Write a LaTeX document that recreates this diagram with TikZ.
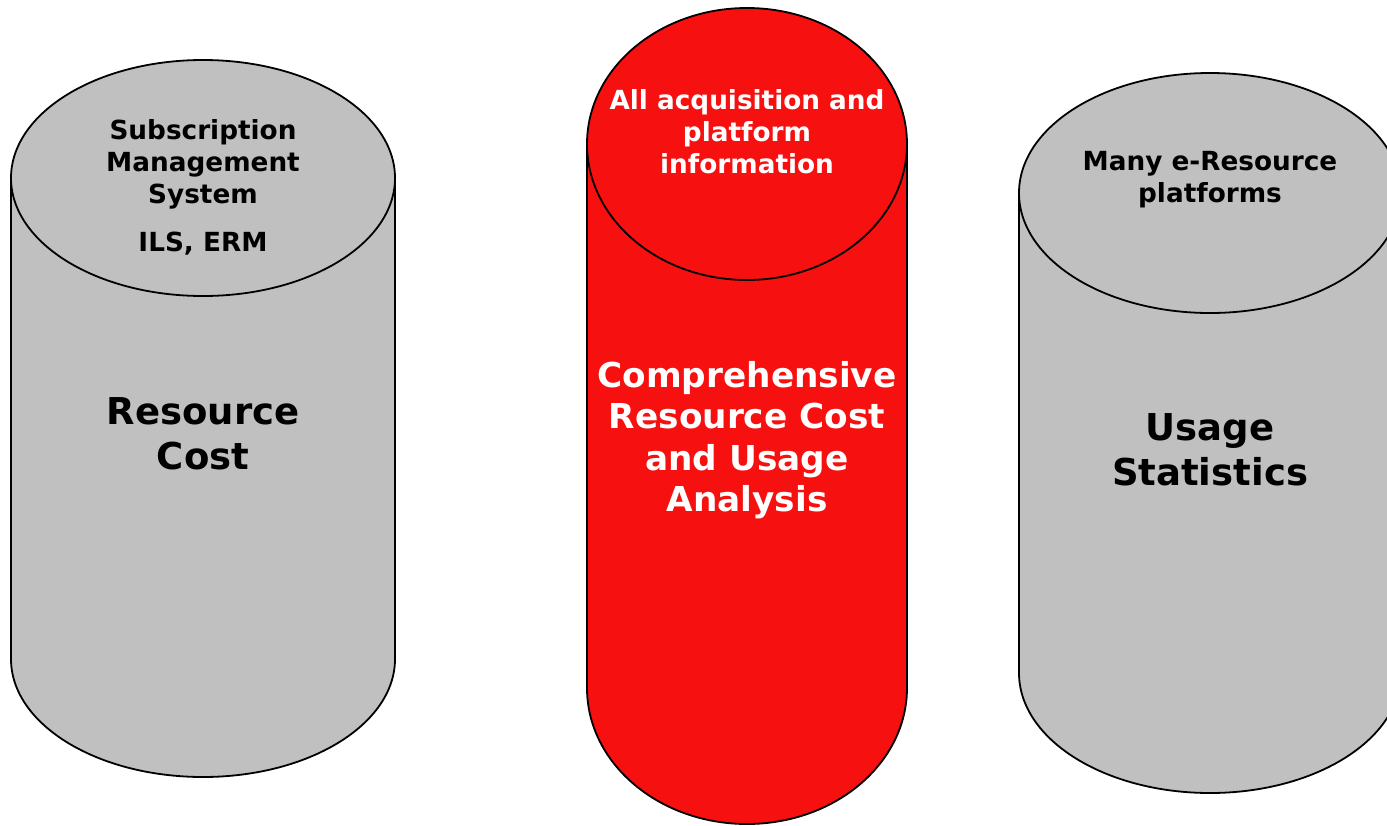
\documentclass[tikz,border=0pt]{standalone}
\usepackage{fontspec}
\setmainfont{DejaVu Sans}
\definecolor{drumgray}{RGB}{192,192,192}
\definecolor{drumred}{RGB}{247,16,16}
\begin{document}
\begin{tikzpicture}
  [
    x=1pt,y=-1pt,
    drum/.style={draw=black,line width=1.8pt},
    small/.style={align=center,font=\fontsize{26.3}{32}\selectfont\bfseries},
    big/.style={align=center,font=\fontsize{37}{45}\selectfont\bfseries},
    mid/.style={align=center,font=\fontsize{34.3}{41.5}\selectfont\bfseries},
  ]
  \clip (0,0) rectangle (1387,825);
  % left drum
  \draw[drum,fill=drumgray] (11,178) -- (11,659) arc[start angle=180,end angle=0,x radius=192,y radius=118] -- (395,178);
  \draw[drum,fill=drumgray] (203,178) ellipse [x radius=192,y radius=118];
  % middle drum
  \draw[drum,fill=drumred] (587,144) -- (587,688) arc[start angle=180,end angle=0,x radius=160,y radius=136] -- (907,144);
  \draw[drum,fill=drumred] (747,144) ellipse [x radius=160,y radius=136];
  % right drum
  \draw[drum,fill=drumgray] (1019,193) -- (1019,673) arc[start angle=180,end angle=0,x radius=191,y radius=120] -- (1401,193);
  \draw[drum,fill=drumgray] (1210,193) ellipse [x radius=191,y radius=120];

  \node (sms) at (203,164) [small] {Subscription\\Management\\System};
  \node (ils) at (203,244) [small] {ILS, ERM};
  \node (cost) at (203,434) [big] {Resource\\Cost};
  \node (acq) at (747,132) [small,text=white] {All acquisition and\\platform\\information};
  \node (comp) at (747,440) [mid,text=white] {Comprehensive\\Resource Cost\\and Usage\\Analysis};
  \node (plat) at (1210,180) [small] {Many e-Resource\\platforms};
  \node (usage) at (1210,450) [big] {Usage\\Statistics};
\end{tikzpicture}
\end{document}
